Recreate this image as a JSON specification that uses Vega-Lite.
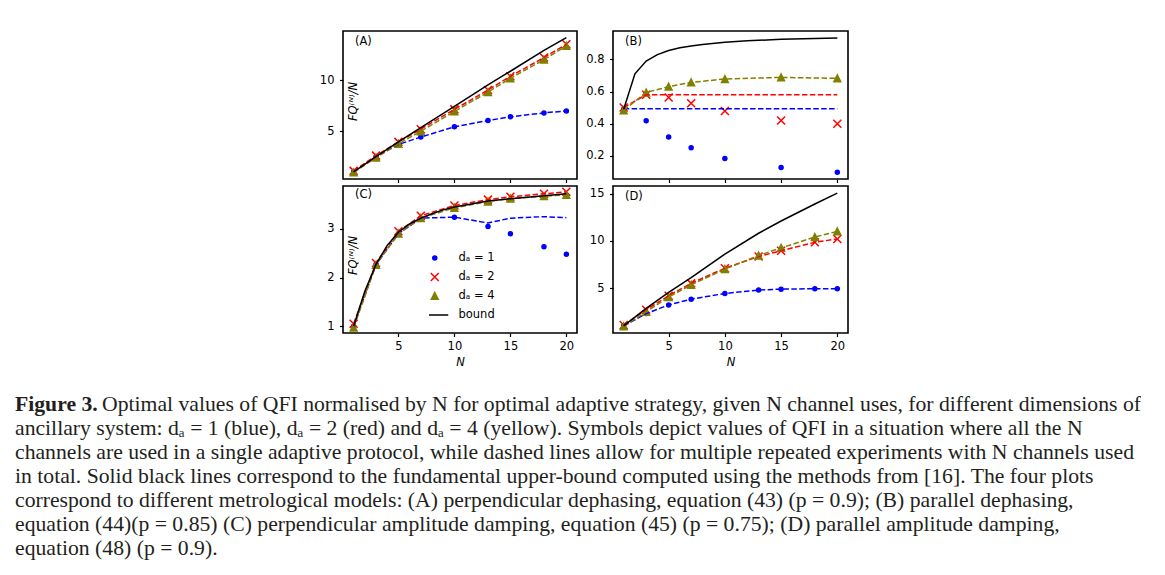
{
"$schema": "https://vega.github.io/schema/vega-lite/v6.json",
"background": "white",
"padding": {"left": 15, "top": 30, "right": 0, "bottom": 0},
"config": {
  "font": "DejaVu Sans",
  "view": {"stroke": null},
  "axis": {"domain": false, "grid": false, "ticks": true, "tickSize": 3.5, "tickWidth": 1.2, "tickColor": "#000000", "labelFont": "DejaVu Sans", "labelFontSize": 11.5, "labelColor": "#000000", "labelPadding": 4, "titleFont": "DejaVu Sans", "titleFontSize": 11.5, "titleFontWeight": "normal", "titleColor": "#000000", "titleFontStyle": "italic"},
  "axisY": {"labelPadding": 5.5, "titleBaseline": "alphabetic"},
  "title": {"font": "DejaVu Sans", "fontSize": 11.5, "fontWeight": "normal", "anchor": "start", "frame": "group", "offset": -16, "dx": 12, "color": "#000000"}
},
"datasets": {
  "pts": [
    {"p":"A","s":"1","N":1,"v":1.0},{"p":"A","s":"1","N":3,"v":2.5},{"p":"A","s":"1","N":5,"v":3.7},{"p":"A","s":"1","N":7,"v":4.43},{"p":"A","s":"1","N":10,"v":5.43},{"p":"A","s":"1","N":13,"v":6.05},{"p":"A","s":"1","N":15,"v":6.42},{"p":"A","s":"1","N":18,"v":6.8},{"p":"A","s":"1","N":20,"v":7.0},
    {"p":"A","s":"2","N":1,"v":1.1},{"p":"A","s":"2","N":3,"v":2.6},{"p":"A","s":"2","N":5,"v":3.95},{"p":"A","s":"2","N":7,"v":5.2},{"p":"A","s":"2","N":10,"v":7.15},{"p":"A","s":"2","N":13,"v":9.05},{"p":"A","s":"2","N":15,"v":10.4},{"p":"A","s":"2","N":18,"v":12.25},{"p":"A","s":"2","N":20,"v":13.55},
    {"p":"A","s":"4","N":1,"v":0.95},{"p":"A","s":"4","N":3,"v":2.4},{"p":"A","s":"4","N":5,"v":3.75},{"p":"A","s":"4","N":7,"v":5.0},{"p":"A","s":"4","N":10,"v":6.95},{"p":"A","s":"4","N":13,"v":8.85},{"p":"A","s":"4","N":15,"v":10.2},{"p":"A","s":"4","N":18,"v":12.05},{"p":"A","s":"4","N":20,"v":13.4},
    {"p":"B","s":"1","N":1,"v":0.49},{"p":"B","s":"1","N":3,"v":0.418},{"p":"B","s":"1","N":5,"v":0.317},{"p":"B","s":"1","N":7,"v":0.25},{"p":"B","s":"1","N":10,"v":0.183},{"p":"B","s":"1","N":15,"v":0.126},{"p":"B","s":"1","N":20,"v":0.097},
    {"p":"B","s":"2","N":1,"v":0.5},{"p":"B","s":"2","N":3,"v":0.58},{"p":"B","s":"2","N":5,"v":0.563},{"p":"B","s":"2","N":7,"v":0.527},{"p":"B","s":"2","N":10,"v":0.479},{"p":"B","s":"2","N":15,"v":0.42},{"p":"B","s":"2","N":20,"v":0.399},
    {"p":"B","s":"4","N":1,"v":0.483},{"p":"B","s":"4","N":3,"v":0.594},{"p":"B","s":"4","N":5,"v":0.63},{"p":"B","s":"4","N":7,"v":0.657},{"p":"B","s":"4","N":10,"v":0.678},{"p":"B","s":"4","N":15,"v":0.688},{"p":"B","s":"4","N":20,"v":0.682},
    {"p":"C","s":"1","N":1,"v":1.0},{"p":"C","s":"1","N":3,"v":2.27},{"p":"C","s":"1","N":5,"v":2.9},{"p":"C","s":"1","N":7,"v":3.22},{"p":"C","s":"1","N":10,"v":3.24},{"p":"C","s":"1","N":13,"v":3.05},{"p":"C","s":"1","N":15,"v":2.9},{"p":"C","s":"1","N":18,"v":2.63},{"p":"C","s":"1","N":20,"v":2.48},
    {"p":"C","s":"2","N":1,"v":1.05},{"p":"C","s":"2","N":3,"v":2.3},{"p":"C","s":"2","N":5,"v":2.95},{"p":"C","s":"2","N":7,"v":3.27},{"p":"C","s":"2","N":10,"v":3.48},{"p":"C","s":"2","N":13,"v":3.6},{"p":"C","s":"2","N":15,"v":3.66},{"p":"C","s":"2","N":18,"v":3.72},{"p":"C","s":"2","N":20,"v":3.76},
    {"p":"C","s":"4","N":1,"v":0.97},{"p":"C","s":"4","N":3,"v":2.26},{"p":"C","s":"4","N":5,"v":2.9},{"p":"C","s":"4","N":7,"v":3.22},{"p":"C","s":"4","N":10,"v":3.43},{"p":"C","s":"4","N":13,"v":3.56},{"p":"C","s":"4","N":15,"v":3.62},{"p":"C","s":"4","N":18,"v":3.67},{"p":"C","s":"4","N":20,"v":3.7},
    {"p":"D","s":"1","N":1,"v":1.0},{"p":"D","s":"1","N":3,"v":2.3},{"p":"D","s":"1","N":5,"v":3.22},{"p":"D","s":"1","N":7,"v":3.83},{"p":"D","s":"1","N":10,"v":4.43},{"p":"D","s":"1","N":13,"v":4.79},{"p":"D","s":"1","N":15,"v":4.89},{"p":"D","s":"1","N":18,"v":4.93},{"p":"D","s":"1","N":20,"v":4.93},
    {"p":"D","s":"2","N":1,"v":1.1},{"p":"D","s":"2","N":3,"v":2.7},{"p":"D","s":"2","N":5,"v":4.2},{"p":"D","s":"2","N":7,"v":5.5},{"p":"D","s":"2","N":10,"v":7.1},{"p":"D","s":"2","N":13,"v":8.35},{"p":"D","s":"2","N":15,"v":8.95},{"p":"D","s":"2","N":18,"v":9.85},{"p":"D","s":"2","N":20,"v":10.2},
    {"p":"D","s":"4","N":1,"v":0.95},{"p":"D","s":"4","N":3,"v":2.5},{"p":"D","s":"4","N":5,"v":4.05},{"p":"D","s":"4","N":7,"v":5.35},{"p":"D","s":"4","N":10,"v":7.0},{"p":"D","s":"4","N":13,"v":8.45},{"p":"D","s":"4","N":15,"v":9.25},{"p":"D","s":"4","N":18,"v":10.4},{"p":"D","s":"4","N":20,"v":11.0}
  ],
  "dash": [
    {"p":"A","s":"1","N":1,"v":1.0},{"p":"A","s":"1","N":3,"v":2.5},{"p":"A","s":"1","N":5,"v":3.7},{"p":"A","s":"1","N":7,"v":4.43},{"p":"A","s":"1","N":10,"v":5.43},{"p":"A","s":"1","N":13,"v":6.05},{"p":"A","s":"1","N":15,"v":6.42},{"p":"A","s":"1","N":18,"v":6.8},{"p":"A","s":"1","N":20,"v":7.0},
    {"p":"A","s":"2","N":1,"v":1.1},{"p":"A","s":"2","N":3,"v":2.6},{"p":"A","s":"2","N":5,"v":3.95},{"p":"A","s":"2","N":7,"v":5.2},{"p":"A","s":"2","N":10,"v":7.15},{"p":"A","s":"2","N":13,"v":9.05},{"p":"A","s":"2","N":15,"v":10.4},{"p":"A","s":"2","N":18,"v":12.25},{"p":"A","s":"2","N":20,"v":13.55},
    {"p":"A","s":"4","N":1,"v":0.95},{"p":"A","s":"4","N":3,"v":2.4},{"p":"A","s":"4","N":5,"v":3.75},{"p":"A","s":"4","N":7,"v":5.0},{"p":"A","s":"4","N":10,"v":6.95},{"p":"A","s":"4","N":13,"v":8.85},{"p":"A","s":"4","N":15,"v":10.2},{"p":"A","s":"4","N":18,"v":12.05},{"p":"A","s":"4","N":20,"v":13.4},
    {"p":"B","s":"1","N":1,"v":0.493},{"p":"B","s":"1","N":3,"v":0.493},{"p":"B","s":"1","N":5,"v":0.493},{"p":"B","s":"1","N":7,"v":0.493},{"p":"B","s":"1","N":10,"v":0.493},{"p":"B","s":"1","N":15,"v":0.493},{"p":"B","s":"1","N":20,"v":0.493},
    {"p":"B","s":"2","N":1,"v":0.5},{"p":"B","s":"2","N":3,"v":0.58},{"p":"B","s":"2","N":5,"v":0.58},{"p":"B","s":"2","N":7,"v":0.58},{"p":"B","s":"2","N":10,"v":0.58},{"p":"B","s":"2","N":15,"v":0.58},{"p":"B","s":"2","N":20,"v":0.58},
    {"p":"B","s":"4","N":1,"v":0.483},{"p":"B","s":"4","N":3,"v":0.594},{"p":"B","s":"4","N":5,"v":0.63},{"p":"B","s":"4","N":7,"v":0.657},{"p":"B","s":"4","N":10,"v":0.678},{"p":"B","s":"4","N":15,"v":0.688},{"p":"B","s":"4","N":20,"v":0.682},
    {"p":"C","s":"1","N":1,"v":1.0},{"p":"C","s":"1","N":3,"v":2.27},{"p":"C","s":"1","N":5,"v":2.9},{"p":"C","s":"1","N":7,"v":3.22},{"p":"C","s":"1","N":10,"v":3.24},{"p":"C","s":"1","N":13,"v":3.12},{"p":"C","s":"1","N":15,"v":3.22},{"p":"C","s":"1","N":18,"v":3.25},{"p":"C","s":"1","N":20,"v":3.23},
    {"p":"C","s":"2","N":1,"v":1.05},{"p":"C","s":"2","N":3,"v":2.3},{"p":"C","s":"2","N":5,"v":2.95},{"p":"C","s":"2","N":7,"v":3.27},{"p":"C","s":"2","N":10,"v":3.48},{"p":"C","s":"2","N":13,"v":3.6},{"p":"C","s":"2","N":15,"v":3.66},{"p":"C","s":"2","N":18,"v":3.72},{"p":"C","s":"2","N":20,"v":3.76},
    {"p":"C","s":"4","N":1,"v":0.97},{"p":"C","s":"4","N":3,"v":2.26},{"p":"C","s":"4","N":5,"v":2.9},{"p":"C","s":"4","N":7,"v":3.22},{"p":"C","s":"4","N":10,"v":3.43},{"p":"C","s":"4","N":13,"v":3.56},{"p":"C","s":"4","N":15,"v":3.62},{"p":"C","s":"4","N":18,"v":3.67},{"p":"C","s":"4","N":20,"v":3.7},
    {"p":"D","s":"1","N":1,"v":1.0},{"p":"D","s":"1","N":3,"v":2.3},{"p":"D","s":"1","N":5,"v":3.22},{"p":"D","s":"1","N":7,"v":3.83},{"p":"D","s":"1","N":10,"v":4.43},{"p":"D","s":"1","N":13,"v":4.79},{"p":"D","s":"1","N":15,"v":4.89},{"p":"D","s":"1","N":18,"v":4.93},{"p":"D","s":"1","N":20,"v":4.93},
    {"p":"D","s":"2","N":1,"v":1.1},{"p":"D","s":"2","N":3,"v":2.7},{"p":"D","s":"2","N":5,"v":4.2},{"p":"D","s":"2","N":7,"v":5.5},{"p":"D","s":"2","N":10,"v":7.1},{"p":"D","s":"2","N":13,"v":8.35},{"p":"D","s":"2","N":15,"v":8.95},{"p":"D","s":"2","N":18,"v":9.85},{"p":"D","s":"2","N":20,"v":10.2},
    {"p":"D","s":"4","N":1,"v":0.95},{"p":"D","s":"4","N":3,"v":2.5},{"p":"D","s":"4","N":5,"v":4.05},{"p":"D","s":"4","N":7,"v":5.35},{"p":"D","s":"4","N":10,"v":7.0},{"p":"D","s":"4","N":13,"v":8.45},{"p":"D","s":"4","N":15,"v":9.25},{"p":"D","s":"4","N":18,"v":10.4},{"p":"D","s":"4","N":20,"v":11.0}
  ],
  "bound": [
    {"p":"A","N":1,"v":1.0},{"p":"A","N":3,"v":2.5},{"p":"A","N":5,"v":3.95},{"p":"A","N":7,"v":5.35},{"p":"A","N":10,"v":7.45},{"p":"A","N":13,"v":9.55},{"p":"A","N":15,"v":10.9},{"p":"A","N":18,"v":12.95},{"p":"A","N":20,"v":14.2},
    {"p":"B","N":1,"v":0.49},{"p":"B","N":2,"v":0.71},{"p":"B","N":3,"v":0.79},{"p":"B","N":4,"v":0.83},{"p":"B","N":5,"v":0.856},{"p":"B","N":6,"v":0.872},{"p":"B","N":7,"v":0.884},{"p":"B","N":8,"v":0.893},{"p":"B","N":10,"v":0.907},{"p":"B","N":12,"v":0.916},{"p":"B","N":15,"v":0.925},{"p":"B","N":18,"v":0.931},{"p":"B","N":20,"v":0.934},
    {"p":"C","N":1,"v":1.0},{"p":"C","N":2,"v":1.72},{"p":"C","N":3,"v":2.27},{"p":"C","N":4,"v":2.66},{"p":"C","N":5,"v":2.93},{"p":"C","N":6,"v":3.1},{"p":"C","N":7,"v":3.22},{"p":"C","N":8,"v":3.31},{"p":"C","N":9,"v":3.39},{"p":"C","N":10,"v":3.45},{"p":"C","N":12,"v":3.53},{"p":"C","N":13,"v":3.57},{"p":"C","N":15,"v":3.62},{"p":"C","N":18,"v":3.68},{"p":"C","N":20,"v":3.72},
    {"p":"D","N":1,"v":1.0},{"p":"D","N":3,"v":2.85},{"p":"D","N":5,"v":4.55},{"p":"D","N":7,"v":6.1},{"p":"D","N":10,"v":8.6},{"p":"D","N":13,"v":10.8},{"p":"D","N":15,"v":12.1},{"p":"D","N":18,"v":13.9},{"p":"D","N":20,"v":15.05}
  ],
  "cap": [
    {"line":0,"seg":"bold","text":"Figure 3."},
    {"line":0,"seg":"first","text":"Optimal values of QFI normalised by N for optimal adaptive strategy, given N channel uses, for different dimensions of"},
    {"line":1,"seg":"plain","text":"ancillary system: dₐ = 1 (blue), dₐ = 2 (red) and dₐ = 4 (yellow). Symbols depict values of QFI in a situation where all the N"},
    {"line":2,"seg":"plain","text":"channels are used in a single adaptive protocol, while dashed lines allow for multiple repeated experiments with N channels used"},
    {"line":3,"seg":"plain","text":"in total. Solid black lines correspond to the fundamental upper-bound computed using the methods from [16]. The four plots"},
    {"line":4,"seg":"plain","text":"correspond to different metrological models: (A) perpendicular dephasing, equation (43) (p = 0.9); (B) parallel dephasing,"},
    {"line":5,"seg":"plain","text":"equation (44)(p = 0.85) (C) perpendicular amplitude damping, equation (45) (p = 0.75); (D) parallel amplitude damping,"},
    {"line":6,"seg":"plain","text":"equation (48) (p = 0.9)."}
  ]
},
"resolve": {
  "scale": {"shape": "independent", "fill": "independent", "stroke": "independent"},
  "legend": {"shape": "independent", "fill": "independent", "stroke": "independent"}
},
"columns": 3,
"spacing": {"row": 7, "column": 36},
"bounds": "flush",
"concat": [
  {"width": 292, "height": 148, "view": {"stroke": null}, "data": {"values": [{}]}, "mark": {"type": "text", "text": ""}},
  {
    "width": 234, "height": 148,
    "view": {"stroke": "#000000", "strokeWidth": 1.6},
    "title": {"text": "(A)"},
    "layer": [
      {"data": {"name": "pts"}, "transform": [{"filter": "datum.p == 'A'"}],
       "mark": {"type": "point", "filled": true, "size": 64, "strokeWidth": 1.5, "opacity": 1},
       "encoding": {
         "x": {"field": "N", "type": "quantitative", "scale": {"domain": [0.05, 20.95], "nice": false, "zero": false}, "axis": {"values": [5, 10, 15, 20], "labels": false, "title": null}},
         "y": {"field": "v", "type": "quantitative", "scale": {"domain": [0.3, 14.86], "nice": false, "zero": false}, "axis": {"values": [5, 10], "title": "FQ⁽ᴺ⁾/N", "titleX": 13, "titleY": 70}},
         "shape": {"field": "s", "type": "nominal", "scale": {"domain": ["1", "2", "4", "bound"], "range": ["M0.5,0A0.5,0.5,0,1,1,-0.5,0A0.5,0.5,0,1,1,0.5,0Z", "M-1,-1L1,1M-1,1L1,-1", "M0,-0.85L0.85,0.85L-0.85,0.85Z", "M-3.375,0L3.375,0"]}, "legend": null},
         "fill": {"field": "s", "type": "nominal", "scale": {"domain": ["1", "2", "4", "bound"], "range": ["#0000ff", "transparent", "#808000", "transparent"]}, "legend": null},
         "stroke": {"field": "s", "type": "nominal", "scale": {"domain": ["1", "2", "4", "bound"], "range": ["#0000ff", "#ff0000", "#808000", "#000000"]}, "legend": null}
       }},
      {"data": {"name": "dash"}, "transform": [{"filter": "datum.p == 'A'"}],
       "mark": {"type": "line", "strokeDash": [5.5, 2.4], "strokeWidth": 1.5},
       "encoding": {"x": {"field": "N", "type": "quantitative"}, "y": {"field": "v", "type": "quantitative"},
         "stroke": {"field": "s", "type": "nominal", "scale": {"domain": ["1", "2", "4", "bound"], "range": ["#0000ff", "#ff0000", "#808000", "#000000"]}, "legend": null}}},
      {"data": {"name": "bound"}, "transform": [{"filter": "datum.p == 'A'"}],
       "mark": {"type": "line", "stroke": "#000000", "strokeWidth": 1.5},
       "encoding": {"x": {"field": "N", "type": "quantitative"}, "y": {"field": "v", "type": "quantitative"}}}
    ]
  },
  {
    "width": 235, "height": 148,
    "view": {"stroke": "#000000", "strokeWidth": 1.6},
    "title": {"text": "(B)"},
    "layer": [
      {"data": {"name": "pts"}, "transform": [{"filter": "datum.p == 'B'"}],
       "mark": {"type": "point", "filled": true, "size": 64, "strokeWidth": 1.5, "opacity": 1},
       "encoding": {
         "x": {"field": "N", "type": "quantitative", "scale": {"domain": [0.05, 20.95], "nice": false, "zero": false}, "axis": {"values": [5, 10, 15, 20], "labels": false, "title": null}},
         "y": {"field": "v", "type": "quantitative", "scale": {"domain": [0.055, 0.977], "nice": false, "zero": false}, "axis": {"values": [0.2, 0.4, 0.6, 0.8], "format": ".1f", "title": null}},
         "shape": {"field": "s", "type": "nominal", "scale": {"domain": ["1", "2", "4", "bound"], "range": ["M0.5,0A0.5,0.5,0,1,1,-0.5,0A0.5,0.5,0,1,1,0.5,0Z", "M-1,-1L1,1M-1,1L1,-1", "M0,-0.85L0.85,0.85L-0.85,0.85Z", "M-3.375,0L3.375,0"]}, "legend": null},
         "fill": {"field": "s", "type": "nominal", "scale": {"domain": ["1", "2", "4", "bound"], "range": ["#0000ff", "transparent", "#808000", "transparent"]}, "legend": null},
         "stroke": {"field": "s", "type": "nominal", "scale": {"domain": ["1", "2", "4", "bound"], "range": ["#0000ff", "#ff0000", "#808000", "#000000"]}, "legend": null}
       }},
      {"data": {"name": "dash"}, "transform": [{"filter": "datum.p == 'B'"}],
       "mark": {"type": "line", "strokeDash": [5.5, 2.4], "strokeWidth": 1.5},
       "encoding": {"x": {"field": "N", "type": "quantitative"}, "y": {"field": "v", "type": "quantitative"},
         "stroke": {"field": "s", "type": "nominal", "scale": {"domain": ["1", "2", "4", "bound"], "range": ["#0000ff", "#ff0000", "#808000", "#000000"]}, "legend": null}}},
      {"data": {"name": "bound"}, "transform": [{"filter": "datum.p == 'B'"}],
       "mark": {"type": "line", "stroke": "#000000", "strokeWidth": 1.5},
       "encoding": {"x": {"field": "N", "type": "quantitative"}, "y": {"field": "v", "type": "quantitative"}}}
    ]
  },
  {"width": 292, "height": 147, "view": {"stroke": null}, "data": {"values": [{}]}, "mark": {"type": "text", "text": ""}},
  {
    "width": 234, "height": 147,
    "view": {"stroke": "#000000", "strokeWidth": 1.6},
    "title": {"text": "(C)"},
    "layer": [
      {"data": {"name": "pts"}, "transform": [{"filter": "datum.p == 'C'"}],
       "mark": {"type": "point", "filled": true, "size": 64, "strokeWidth": 1.5, "opacity": 1},
       "encoding": {
         "x": {"field": "N", "type": "quantitative", "scale": {"domain": [0.05, 20.95], "nice": false, "zero": false}, "axis": {"values": [5, 10, 15, 20], "title": "N"}},
         "y": {"field": "v", "type": "quantitative", "scale": {"domain": [0.86, 3.88], "nice": false, "zero": false}, "axis": {"values": [1, 2, 3], "title": "FQ⁽ᴺ⁾/N", "titleX": 13, "titleY": 69}},
         "shape": {"field": "s", "type": "nominal", "scale": {"domain": ["1", "2", "4", "bound"], "range": ["M0.5,0A0.5,0.5,0,1,1,-0.5,0A0.5,0.5,0,1,1,0.5,0Z", "M-1,-1L1,1M-1,1L1,-1", "M0,-0.85L0.85,0.85L-0.85,0.85Z", "M-3.375,0L3.375,0"]},
           "legend": {"orient": "none", "legendX": 86, "legendY": 63.6, "title": null, "padding": 0, "clipHeight": 16.7, "rowPadding": 2, "labelOffset": 18, "symbolSize": 64, "symbolStrokeWidth": 1.5, "symbolOpacity": 1, "labelFontSize": 11.5, "labelFont": "DejaVu Sans", "labelColor": "#000000", "labelExpr": "datum.value == 'bound' ? 'bound' : 'dₐ = ' + datum.value",
             "encode": {"labels": {"update": {"fontStyle": {"signal": "datum.value == 'bound' ? 'normal' : 'italic'"}}}}}},
         "fill": {"field": "s", "type": "nominal", "scale": {"domain": ["1", "2", "4", "bound"], "range": ["#0000ff", "transparent", "#808000", "transparent"]}},
         "stroke": {"field": "s", "type": "nominal", "scale": {"domain": ["1", "2", "4", "bound"], "range": ["#0000ff", "#ff0000", "#808000", "#000000"]}}
       }},
      {"data": {"name": "dash"}, "transform": [{"filter": "datum.p == 'C'"}],
       "mark": {"type": "line", "strokeDash": [5.5, 2.4], "strokeWidth": 1.5},
       "encoding": {"x": {"field": "N", "type": "quantitative"}, "y": {"field": "v", "type": "quantitative"},
         "stroke": {"field": "s", "type": "nominal", "scale": {"domain": ["1", "2", "4", "bound"], "range": ["#0000ff", "#ff0000", "#808000", "#000000"]}}}},
      {"data": {"name": "bound"}, "transform": [{"filter": "datum.p == 'C'"}],
       "mark": {"type": "line", "stroke": "#000000", "strokeWidth": 1.5},
       "encoding": {"x": {"field": "N", "type": "quantitative"}, "y": {"field": "v", "type": "quantitative"}}}
    ]
  },
  {
    "width": 235, "height": 147,
    "view": {"stroke": "#000000", "strokeWidth": 1.6},
    "title": {"text": "(D)"},
    "layer": [
      {"data": {"name": "pts"}, "transform": [{"filter": "datum.p == 'D'"}],
       "mark": {"type": "point", "filled": true, "size": 64, "strokeWidth": 1.5, "opacity": 1},
       "encoding": {
         "x": {"field": "N", "type": "quantitative", "scale": {"domain": [0.05, 20.95], "nice": false, "zero": false}, "axis": {"values": [5, 10, 15, 20], "title": "N"}},
         "y": {"field": "v", "type": "quantitative", "scale": {"domain": [0.25, 15.8], "nice": false, "zero": false}, "axis": {"values": [5, 10, 15], "title": null}},
         "shape": {"field": "s", "type": "nominal", "scale": {"domain": ["1", "2", "4", "bound"], "range": ["M0.5,0A0.5,0.5,0,1,1,-0.5,0A0.5,0.5,0,1,1,0.5,0Z", "M-1,-1L1,1M-1,1L1,-1", "M0,-0.85L0.85,0.85L-0.85,0.85Z", "M-3.375,0L3.375,0"]}, "legend": null},
         "fill": {"field": "s", "type": "nominal", "scale": {"domain": ["1", "2", "4", "bound"], "range": ["#0000ff", "transparent", "#808000", "transparent"]}, "legend": null},
         "stroke": {"field": "s", "type": "nominal", "scale": {"domain": ["1", "2", "4", "bound"], "range": ["#0000ff", "#ff0000", "#808000", "#000000"]}, "legend": null}
       }},
      {"data": {"name": "dash"}, "transform": [{"filter": "datum.p == 'D'"}],
       "mark": {"type": "line", "strokeDash": [5.5, 2.4], "strokeWidth": 1.5},
       "encoding": {"x": {"field": "N", "type": "quantitative"}, "y": {"field": "v", "type": "quantitative"},
         "stroke": {"field": "s", "type": "nominal", "scale": {"domain": ["1", "2", "4", "bound"], "range": ["#0000ff", "#ff0000", "#808000", "#000000"]}, "legend": null}}},
      {"data": {"name": "bound"}, "transform": [{"filter": "datum.p == 'D'"}],
       "mark": {"type": "line", "stroke": "#000000", "strokeWidth": 1.5},
       "encoding": {"x": {"field": "N", "type": "quantitative"}, "y": {"field": "v", "type": "quantitative"}}}
    ]
  },
  {
    "width": 292, "height": 208,
    "view": {"stroke": null},
    "data": {"name": "cap"},
    "encoding": {
      "y": {"field": "line", "type": "quantitative", "scale": {"domain": [-2.667, 6], "reverse": true, "nice": false, "zero": false}, "axis": null},
      "x": {"value": 0},
      "text": {"field": "text"}
    },
    "layer": [
      {"transform": [{"filter": "datum.seg == 'plain'"}], "mark": {"type": "text", "align": "left", "baseline": "middle", "font": "Liberation Serif", "fontSize": 21.7, "color": "#231f20"}},
      {"transform": [{"filter": "datum.seg == 'first'"}], "mark": {"type": "text", "align": "left", "baseline": "middle", "font": "Liberation Serif", "fontSize": 21.7, "color": "#231f20", "dx": 87}},
      {"transform": [{"filter": "datum.seg == 'bold'"}], "mark": {"type": "text", "align": "left", "baseline": "middle", "font": "Liberation Serif", "fontSize": 21.7, "fontWeight": "bold", "color": "#231f20"}}
    ]
  }
]
}
